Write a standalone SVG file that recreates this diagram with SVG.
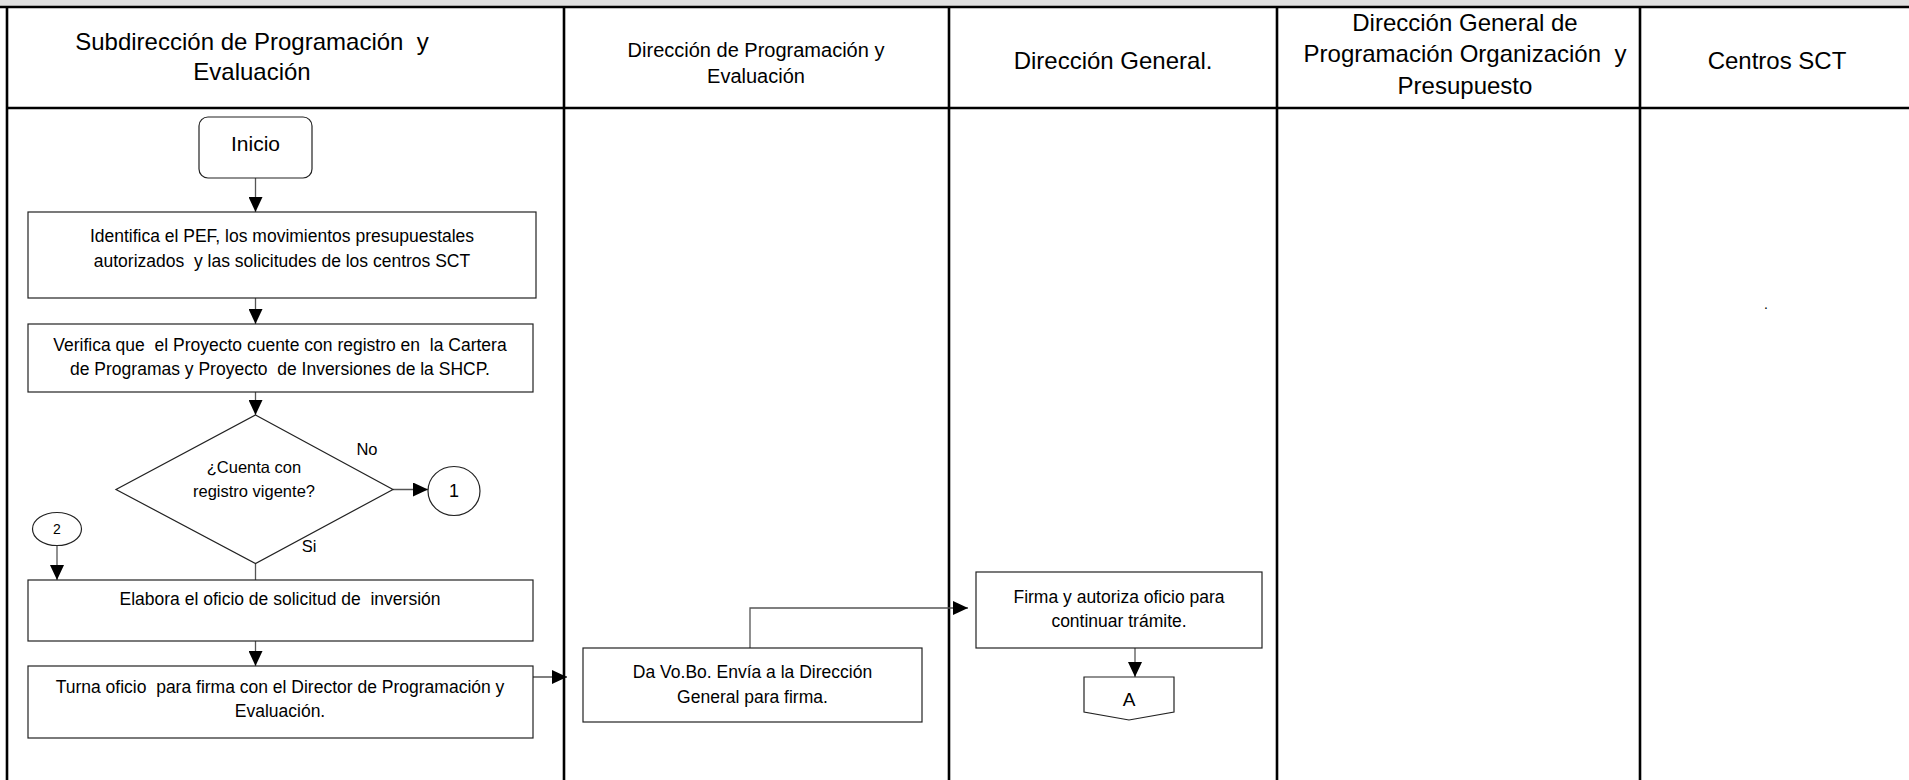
<svg xmlns="http://www.w3.org/2000/svg" width="1909" height="780" viewBox="0 0 1909 780">
<defs>
<marker id="ah" markerUnits="userSpaceOnUse" markerWidth="15" markerHeight="14" refX="15" refY="7" orient="auto">
<path d="M0,0 L15,7 L0,14 z" fill="#000"/>
</marker>
<style>
text{font-family:"Liberation Sans",Arial,sans-serif;fill:#000;text-anchor:middle}
.lane{stroke:#000;stroke-width:2.6;fill:none}
.box{fill:#fff;stroke:#222;stroke-width:1.2}
.con{fill:none;stroke:#555;stroke-width:1.3}
.arr{marker-end:url(#ah)}
.h24{font-size:24px}
.h20{font-size:20px}
.t{font-size:17.5px}
.s{font-size:16.5px}
</style>
</defs>
<rect x="0" y="0" width="1909" height="7" fill="#e0e0e0"/>
<g id="lanes">
<line class="lane" x1="0" y1="7" x2="1909" y2="7"/>
<line class="lane" x1="7" y1="7" x2="7" y2="780"/>
<line class="lane" x1="7" y1="108" x2="1909" y2="108"/>
<line class="lane" x1="564" y1="7" x2="564" y2="780"/>
<line class="lane" x1="949" y1="7" x2="949" y2="780"/>
<line class="lane" x1="1277" y1="7" x2="1277" y2="780"/>
<line class="lane" x1="1640" y1="7" x2="1640" y2="780"/>
</g>
<g id="headers">
<text class="h24" x="252" y="50" xml:space="preserve">Subdirección de Programación  y</text>
<text class="h24" x="252" y="80">Evaluación</text>
<text class="h20" x="756" y="57">Dirección de Programación y</text>
<text class="h20" x="756" y="83">Evaluación</text>
<text class="h24" x="1113" y="69">Dirección General.</text>
<text class="h24" x="1465" y="31">Dirección General de</text>
<text class="h24" x="1465" y="62" xml:space="preserve">Programación Organización  y</text>
<text class="h24" x="1465" y="94">Presupuesto</text>
<text class="h24" x="1777" y="69">Centros SCT</text>
</g>
<g id="connectors">
<path class="con arr" d="M255.5,178 V212"/>
<path class="con arr" d="M255.5,298 V324"/>
<path class="con arr" d="M255.5,392 V415"/>
<path class="con arr" d="M393,489.5 H428"/>
<path class="con" d="M255.5,563.5 V580"/>
<path class="con arr" d="M57,545 V580"/>
<path class="con arr" d="M255.5,641 V666"/>
<path class="con arr" d="M533,677 H567"/>
<path class="con arr" d="M750,648 V608 H968"/>
<path class="con arr" d="M1135,648 V677"/>
</g>
<g id="inicio">
<rect class="box" x="199" y="117" width="113" height="61" rx="9"/>
<text x="255.5" y="151" style="font-size:21px">Inicio</text>
</g>
<g id="identifica">
<rect class="box" x="28" y="212" width="508" height="86"/>
<text class="t" x="282" y="242">Identifica el PEF, los movimientos presupuestales</text>
<text class="t" x="282" y="267" xml:space="preserve">autorizados  y las solicitudes de los centros SCT</text>
</g>
<g id="verifica">
<rect class="box" x="28" y="324" width="505" height="68"/>
<text class="t" x="280" y="351" xml:space="preserve">Verifica que  el Proyecto cuente con registro en  la Cartera</text>
<text class="t" x="280" y="375" xml:space="preserve">de Programas y Proyecto  de Inversiones de la SHCP.</text>
</g>
<g id="decision">
<polygon class="box" points="255.5,415 393,489.5 255.5,563.5 116,489.5"/>
<text class="s" x="254" y="473">¿Cuenta con</text>
<text class="s" x="254" y="497">registro vigente?</text>
<text class="s" x="367" y="455">No</text>
<text class="s" x="309" y="552">Si</text>
</g>
<g id="conector1">
<ellipse class="box" cx="454" cy="491" rx="26" ry="24.5"/>
<text x="454" y="497" style="font-size:18px">1</text>
</g>
<g id="conector2">
<ellipse class="box" cx="57" cy="529" rx="24.5" ry="16.5"/>
<text x="57" y="534" style="font-size:14px">2</text>
</g>
<g id="elabora">
<rect class="box" x="28" y="580" width="505" height="61"/>
<text class="t" x="280" y="605" xml:space="preserve">Elabora el oficio de solicitud de  inversión</text>
</g>
<g id="turna">
<rect class="box" x="28" y="666" width="505" height="72"/>
<text class="t" x="280" y="693" xml:space="preserve">Turna oficio  para firma con el Director de Programación y</text>
<text class="t" x="280" y="717">Evaluación.</text>
</g>
<g id="vobo">
<rect class="box" x="583" y="648" width="339" height="74"/>
<text class="t" x="752.5" y="678">Da Vo.Bo. Envía a la Dirección</text>
<text class="t" x="752.5" y="703">General para firma.</text>
</g>
<g id="firma">
<rect class="box" x="976" y="572" width="286" height="76"/>
<text class="t" x="1119" y="603">Firma y autoriza oficio para</text>
<text class="t" x="1119" y="627">continuar trámite.</text>
</g>
<g id="conectorA">
<polygon class="box" points="1084,677 1174,677 1174,712 1129,720 1084,712"/>
<text x="1129" y="706" style="font-size:19px">A</text>
</g>
<g id="nota">
<text x="1766" y="309" style="font-size:14px">.</text>
</g>
</svg>
